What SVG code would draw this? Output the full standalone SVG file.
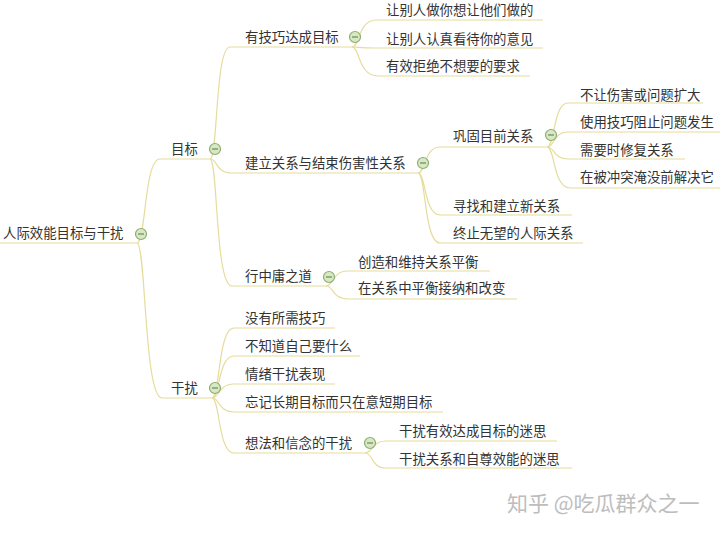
<svg xmlns="http://www.w3.org/2000/svg" width="720" height="533" viewBox="0 0 720 533">
  <style>
    .t { font-family: "Noto Sans CJK SC", "Noto Sans", sans-serif; font-size: 13.4px; fill: #333; }
    .ln { fill: none; stroke: #e6dc9c; stroke-width: 1.2; }
    .tog circle { fill: #d9e8c4; stroke: #8cae72; stroke-width: 1.2; }
    .tog line { stroke: #6a8a55; stroke-width: 1.2; }
    .wm { font-family: "Noto Sans CJK SC", sans-serif; font-size: 21px; fill: #bdbdbd; }
  </style>
  <defs>
    <g id="toggle" class="tog">
      <circle r="5.5"/>
      <line x1="-3" y1="0" x2="3" y2="0"/>
    </g>
  </defs>
  <rect width="720" height="533" fill="#fff"/>

  <!-- branch lines (each ends in the underline of its topic) -->
  <g id="connectors">
    <path class="ln" d="M0,243 H137"/>
    <path class="ln" d="M137,243 C146,243 144,159 160,159 H210"/>
    <path class="ln" d="M137,243 C146,243 144,398 162,398 H212"/>
    <path class="ln" d="M210,159 C218,159 215,47 230,47 H352"/>
    <path class="ln" d="M210,159 C218,159 215,173 232,173 H418"/>
    <path class="ln" d="M210,159 C218,159 215,286 232,286 H326"/>
    <path class="ln" d="M352,47 C360,47 358,20 376,20 H543"/>
    <path class="ln" d="M352,47 C360,47 358,48 376,48 H543"/>
    <path class="ln" d="M352,47 C360,47 358,76 378,76 H530"/>
    <path class="ln" d="M418,173 C426,173 424,147 440,147 H547"/>
    <path class="ln" d="M418,173 C426,173 424,215 440,215 H572"/>
    <path class="ln" d="M418,173 C426,173 424,243 440,243 H583"/>
    <path class="ln" d="M547,147 C555,147 553,103 568,103 H703"/>
    <path class="ln" d="M547,147 C555,147 553,132 568,132 H720"/>
    <path class="ln" d="M547,147 C555,147 553,159 568,159 H685"/>
    <path class="ln" d="M547,147 C555,147 553,188 570,188 H720"/>
    <path class="ln" d="M326,286 C334,286 332,271 348,271 H490"/>
    <path class="ln" d="M326,286 C334,286 332,299 348,299 H517"/>
    <path class="ln" d="M212,398 C220,398 218,328 234,328 H335"/>
    <path class="ln" d="M212,398 C220,398 218,356 234,356 H360"/>
    <path class="ln" d="M212,398 C220,398 218,384 234,384 H335"/>
    <path class="ln" d="M212,398 C220,398 218,412 234,412 H443"/>
    <path class="ln" d="M212,398 C220,398 218,453 234,453 H365"/>
    <path class="ln" d="M365,453 C373,453 371,441 386,441 H557"/>
    <path class="ln" d="M365,453 C373,453 371,468 386,468 H572"/>
  </g>

  <!-- root -->
  <g id="root">
    <text class="t" x="3" y="238">人际效能目标与干扰</text>
    <use href="#toggle" x="141" y="234"/>
  </g>

  <!-- goals -->
  <g id="goals">
    <text class="t" x="171" y="154">目标</text>
    <use href="#toggle" x="215" y="149"/>
  </g>
  <g id="skillful">
    <text class="t" x="245" y="42">有技巧达成目标</text>
    <use href="#toggle" x="355" y="37"/>
  </g>
  <g id="skill-1"><text class="t" x="386" y="15">让别人做你想让他们做的</text></g>
  <g id="skill-2"><text class="t" x="386" y="44">让别人认真看待你的意见</text></g>
  <g id="skill-3"><text class="t" x="386" y="71">有效拒绝不想要的要求</text></g>

  <g id="relations">
    <text class="t" x="245" y="168">建立关系与结束伤害性关系</text>
    <use href="#toggle" x="423" y="163"/>
  </g>
  <g id="consolidate">
    <text class="t" x="453" y="141">巩固目前关系</text>
    <use href="#toggle" x="551" y="135"/>
  </g>
  <g id="cons-1"><text class="t" x="580" y="100">不让伤害或问题扩大</text></g>
  <g id="cons-2"><text class="t" x="580" y="127">使用技巧阻止问题发生</text></g>
  <g id="cons-3"><text class="t" x="580" y="155">需要时修复关系</text></g>
  <g id="cons-4"><text class="t" x="580" y="182">在被冲突淹没前解决它</text></g>
  <g id="rel-new"><text class="t" x="453" y="211">寻找和建立新关系</text></g>
  <g id="rel-end"><text class="t" x="453" y="238">终止无望的人际关系</text></g>

  <g id="middle-way">
    <text class="t" x="245" y="281">行中庸之道</text>
    <use href="#toggle" x="329" y="277"/>
  </g>
  <g id="mid-1"><text class="t" x="358" y="267">创造和维持关系平衡</text></g>
  <g id="mid-2"><text class="t" x="358" y="293">在关系中平衡接纳和改变</text></g>

  <!-- interference -->
  <g id="interference">
    <text class="t" x="171" y="393">干扰</text>
    <use href="#toggle" x="215" y="388"/>
  </g>
  <g id="int-1"><text class="t" x="245" y="323">没有所需技巧</text></g>
  <g id="int-2"><text class="t" x="245" y="351">不知道自己要什么</text></g>
  <g id="int-3"><text class="t" x="245" y="379">情绪干扰表现</text></g>
  <g id="int-4"><text class="t" x="245" y="407">忘记长期目标而只在意短期目标</text></g>
  <g id="beliefs">
    <text class="t" x="245" y="448">想法和信念的干扰</text>
    <use href="#toggle" x="370" y="443"/>
  </g>
  <g id="belief-1"><text class="t" x="399" y="436">干扰有效达成目标的迷思</text></g>
  <g id="belief-2"><text class="t" x="399" y="464">干扰关系和自尊效能的迷思</text></g>

  <text class="wm" x="507" y="511">知乎 @吃瓜群众之一</text>
</svg>
